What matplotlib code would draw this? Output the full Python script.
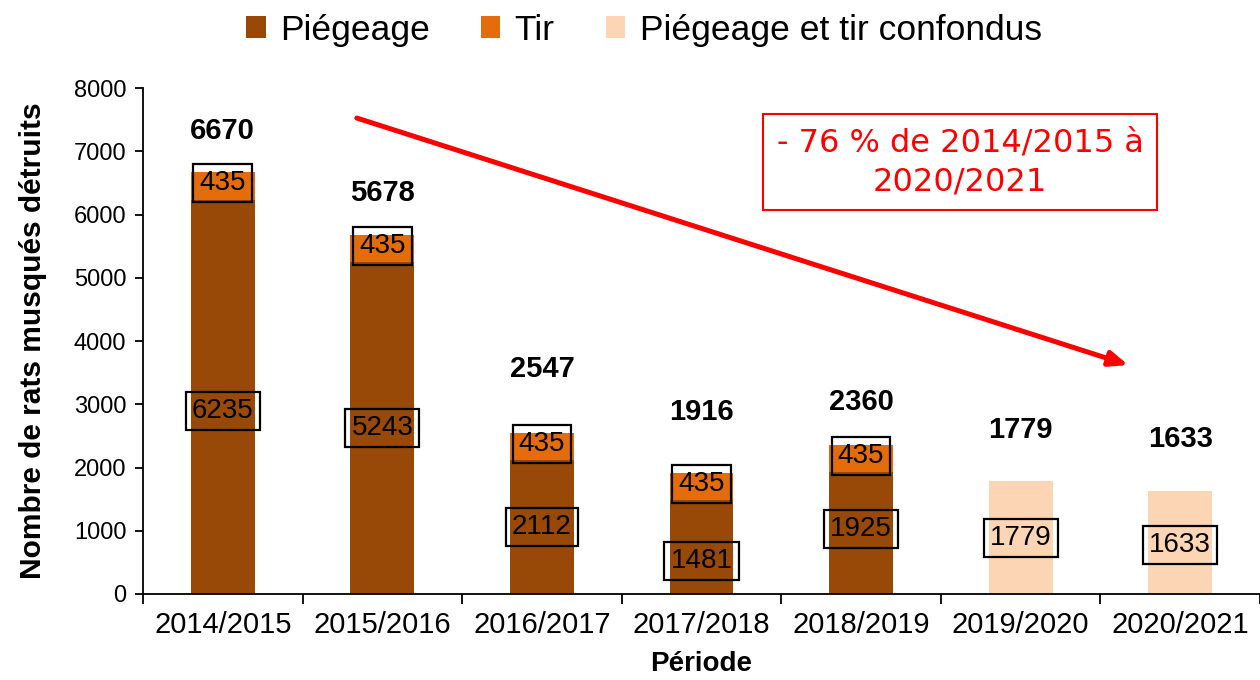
import matplotlib
matplotlib.use("Agg")
import matplotlib.pyplot as plt
import numpy as np

categories = ["2014/2015", "2015/2016", "2016/2017", "2017/2018", "2018/2019", "2019/2020", "2020/2021"]
piegeage = [6235, 5243, 2112, 1481, 1925, 0, 0]
tir = [435, 435, 435, 435, 435, 0, 0]
confondus = [0, 0, 0, 0, 0, 1779, 1633]
totals = [6670, 5678, 2547, 1916, 2360, 1779, 1633]

c_pieg = "#984807"
c_tir = "#E46C0A"
c_conf = "#FCD5B5"

plt.rcParams['font.family'] = ['Liberation Sans', 'DejaVu Sans']

fig = plt.figure(figsize=(12.6, 6.8), dpi=100)
ax = fig.add_axes([0.1135, 0.1265, 0.8865, 0.744])

x = np.arange(len(categories))
w = 0.4
b1 = ax.bar(x, piegeage, w, color=c_pieg, label="Piégeage")
b2 = ax.bar(x, tir, w, bottom=piegeage, color=c_tir, label="Tir")
b3 = ax.bar(x, confondus, w, color=c_conf, label="Piégeage et tir confondus")

box = dict(boxstyle="square,pad=0.22", fc="none", ec="black", lw=1.6)
# offsets (points) for inner labels
pieg_off = [-10, 0, 0, -10, 3, 0, 0]
conf_off = [0, 0, 0, 0, 0, 0, -2]
tot_off = [30, 30, 46, 44, 31, 37, 37]
fs_in = 20
for i in range(len(categories)):
    if piegeage[i] > 0:
        ax.annotate(str(piegeage[i]), (x[i], piegeage[i] / 2), xytext=(0, pieg_off[i]),
                    textcoords="offset points", ha="center", va="center",
                    fontsize=fs_in, bbox=box)
    if tir[i] > 0:
        ax.annotate(str(tir[i]), (x[i], piegeage[i] + tir[i] / 2), xytext=(0, 2),
                    textcoords="offset points", ha="center", va="center",
                    fontsize=fs_in, bbox=box)
    if confondus[i] > 0:
        ax.annotate(str(confondus[i]), (x[i], confondus[i] / 2), xytext=(0, conf_off[i]),
                    textcoords="offset points", ha="center", va="center",
                    fontsize=fs_in, bbox=box)
    ax.annotate(str(totals[i]), (x[i], totals[i]), xytext=(0, tot_off[i]),
                textcoords="offset points", ha="center", va="center",
                fontsize=21, fontweight="bold")

ax.set_xlim(-0.5, len(categories) - 0.5)
ax.set_ylim(0, 8000)
ax.set_yticks(np.arange(0, 8001, 1000))
ax.set_xticks(x)
ax.set_xticklabels(categories)
ax.set_xticks(np.arange(-0.5, len(categories), 1), minor=True)
ax.tick_params(axis="x", which="major", length=0, labelsize=21, pad=12)
ax.tick_params(axis="x", which="minor", length=7, width=1.3, direction="out")
ax.tick_params(axis="y", labelsize=17, length=6, width=1.3, direction="out", pad=6)
for s in ["top", "right"]:
    ax.spines[s].set_visible(False)
ax.spines["left"].set_linewidth(1.3)
ax.spines["bottom"].set_linewidth(1.3)

ax.set_ylabel("Nombre de rats musqués détruits", fontsize=21.5, fontweight="bold", labelpad=19)
ax.set_xlabel("Période", fontsize=20, fontweight="bold", labelpad=9)

# trend arrow
ax.annotate("", xy=(5.675, 3620), xytext=(0.84, 7526),
            arrowprops=dict(arrowstyle="-|>,head_length=1.1,head_width=0.45", color="#FF0000", lw=3.6,
                            shrinkA=0, shrinkB=0))

ax.text(0.7315, 0.853, "- 76 % de 2014/2015 à\n2020/2021", transform=ax.transAxes,
        ha="center", va="center", fontsize=23, color="#FF0000", family="DejaVu Sans",
        linespacing=1.3,
        bbox=dict(boxstyle="square,pad=0.42", fc="white", ec="#FF0000", lw=1.5))

fig.legend(handles=[b1, b2, b3], loc="upper center", bbox_to_anchor=(0.511, 1.027), ncol=3,
           frameon=False, fontsize=25.5, handlelength=0.55, handleheight=0.55,
           handletextpad=0.4, columnspacing=1.45)

fig.savefig("out.png", dpi=100)
